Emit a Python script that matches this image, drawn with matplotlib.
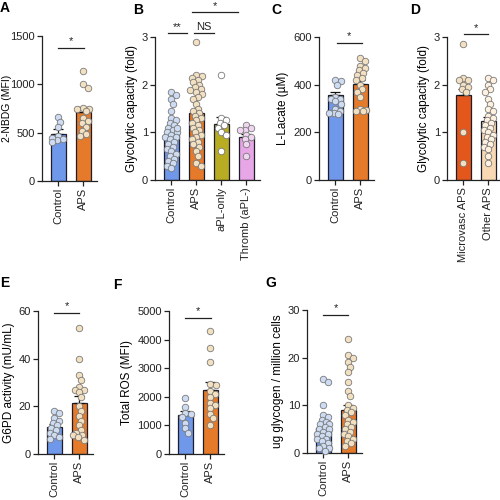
import matplotlib.pyplot as plt
import numpy as np

plt.rcParams['font.family'] = ['Liberation Sans', 'DejaVu Sans']
plt.rcParams['font.size'] = 8

# colours
BLUE, BLUE_DOT = '#6f97ea', '#cddcf3'
ORANGE, ORANGE_DOT = '#e57a2a', '#f3e0c0'
OLIVE, OLIVE_DOT = '#b8ac22', '#ffffff'
PINK, PINK_DOT = '#e7a6e6', '#f0d6f0'
RED_OR, PEACH, PEACH_DOT = '#e4571c', '#f9d9b4', '#fff1df'

# ---- data ----
a_groups = ['Control', 'APS']
a_mean = [490, 710]
a_sem = [45, 55]
a_pts = [[660, 610, 560, 470, 430, 420, 450, 400],
         [1140, 1000, 960, 760, 750, 740, 720, 650, 620, 600, 560, 520, 490, 470]]

b_groups = ['Control', 'APS', 'aPL-only', 'Thromb (aPL-)']
b_mean = [0.97, 1.40, 1.17, 0.90]
b_sem = [0.08, 0.09, 0.16, 0.07]
b_pts = [[1.85, 1.78, 1.7, 1.6, 1.45, 1.3, 1.25, 1.2, 1.15, 1.1, 1.05, 1.0, 1.0, 0.95,
          0.9, 0.9, 0.85, 0.8, 0.75, 0.7, 0.65, 0.6, 0.55, 0.5, 0.45, 0.4, 0.35, 0.3, 0.25, 1.1],
         [2.9, 2.2, 2.18, 2.15, 2.1, 2.05, 2.0, 1.95, 1.9, 1.88, 1.85, 1.8, 1.75, 1.7, 1.6,
          1.5, 1.45, 1.4, 1.35, 1.3, 1.25, 1.2, 1.15, 1.1, 1.05, 1.0, 0.95, 0.9, 0.85, 0.8,
          0.75, 0.7, 0.6, 0.5, 0.35, 0.3],
         [2.2, 1.3, 1.25, 1.2, 1.15, 1.1, 1.0, 0.95, 0.6],
         [1.15, 1.1, 1.05, 1.05, 0.95, 0.9, 0.85, 0.75, 0.5]]

c_groups = ['Control', 'APS']
c_mean = [355, 403]
c_sem = [14, 18]
c_pts = [[420, 415, 400, 350, 340, 340, 330, 320, 300, 290, 280, 280, 275],
         [510, 500, 480, 470, 460, 450, 440, 430, 420, 400, 380, 370, 350, 300, 295, 290, 290]]

d_groups = ['Microvasc APS', 'Other APS']
d_mean = [1.78, 1.23]
d_sem = [0.12, 0.1]
d_pts = [[2.85, 2.15, 2.1, 2.1, 2.0, 1.95, 1.9, 1.85, 1.0, 0.35],
         [2.15, 2.1, 2.0, 1.9, 1.85, 1.7, 1.6, 1.5, 1.45, 1.35, 1.3, 1.25, 1.2, 1.15,
          1.1, 1.05, 1.0, 0.95, 0.9, 0.85, 0.8, 0.75, 0.7, 0.65, 0.5, 0.35]]

e_groups = ['Control', 'APS']
e_mean = [11.5, 21.5]
e_sem = [1.2, 3.0]
e_pts = [[18, 17, 15, 14, 13, 12, 11, 10, 9, 8, 7, 6.5],
         [53, 40, 33, 31, 28, 27, 27, 26, 24, 20, 18, 16, 14, 12, 10, 9, 8, 8, 7, 6]]

f_groups = ['Control', 'APS']
f_mean = [1380, 2240]
f_sem = [140, 270]
f_pts = [[1950, 1650, 1450, 1400, 1300, 1100, 900, 750],
         [4300, 3700, 3200, 2450, 2400, 2200, 2100, 2000, 1800, 1700, 1600, 1400, 1250, 1000]]

g_groups = ['Control', 'APS']
g_mean = [5.2, 9.0]
g_sem = [0.8, 1.1]
g_pts = [[15.5, 15, 10, 8, 7.5, 7, 6.5, 6, 6, 5.5, 5, 5, 4.5, 4, 4, 3.5, 3, 3, 2.5, 2,
          1.5, 1, 1, 0.5],
         [24, 20.5, 20, 19, 18, 17, 15, 13, 12, 10, 9.5, 9, 8.5, 8, 7, 6.5, 6, 5.5, 5,
          4.5, 4, 3.5, 3, 2.5, 2, 1.5]]

W = 500.0
STEP = 25.0  # px between bars


def swarm(vals, px_per_unit, d=6.2, half=6.0):
    # compact beeswarm kept inside the bar
    placed = []
    offs = []
    cand = [0.0]
    for k in range(1, 5):
        cand += [k * half / 4, -k * half / 4]
    for v in vals:
        y = v * px_per_unit
        best, best_d = 0.0, -1
        for c in cand:
            md = min([np.hypot(c - px, y - py) for px, py in placed] or [99])
            if md >= d * 0.8:
                best = c
                break
            if md > best_d:
                best, best_d = c, md
        placed.append((best, y))
        offs.append(best / STEP)
    return offs


def panel(left, top, bottom, groups, means, sems, pts, bar_cols, dot_cols,
          ymax, yticks, ylabel, sig):
    n = len(groups)
    w = (0.65 + n - 1 + 0.55) * STEP
    ax = fig.add_axes([left / W, 1 - bottom / W, w / W, (bottom - top) / W])
    x = np.arange(n)
    ax.bar(x, means, width=0.62, color=bar_cols, edgecolor='#1e1e2a', linewidth=0.9, zorder=2)
    for i in range(n):
        ax.errorbar(x[i], means[i], yerr=[[0], [sems[i]]], color='#111111',
                    elinewidth=0.9, capsize=3.5, capthick=0.9, zorder=4)
        offs = swarm(pts[i], (bottom - top) / ymax)
        ax.scatter(x[i] + np.array(offs), pts[i], s=22, facecolor=dot_cols[i],
                   edgecolor='#7a7a7a', linewidth=0.6, zorder=5, clip_on=False)
    ax.set_xlim(-0.65, n - 1 + 0.55)
    ax.set_ylim(0, ymax)
    ax.set_yticks(yticks)
    ax.set_xticks(x)
    ax.set_xticklabels(groups, rotation=90)
    ax.set_ylabel(ylabel, labelpad=3, fontsize=8.5)
    for s in ['top', 'right']:
        ax.spines[s].set_visible(False)
    for s in ['left', 'bottom']:
        ax.spines[s].set_color('#222222')
        ax.spines[s].set_linewidth(0.9)
    ax.tick_params(direction='out', length=3.5, width=0.9, labelsize=8,
                   colors='#222222', pad=1.5)
    for x0, x1, y, txt, dy in sig:
        ax.plot([x0, x1], [y, y], color='#222222', lw=0.9, clip_on=False)
        ax.text((x0 + x1) / 2, y + dy * ymax, txt, ha='center', va='bottom',
                fontsize=8, color='#222222', clip_on=False)
    return ax


fig = plt.figure(figsize=(5, 5), dpi=100)

ax_a = panel(42, 36, 181, a_groups, a_mean, a_sem, a_pts, [BLUE, ORANGE],
             [BLUE_DOT, ORANGE_DOT], 1500, [0, 500, 1000, 1500], '2-NBDG (MFI)',
             [(-0.02, 1.02, 1376, '*', 0.01)])
# keep the leftmost label inside the picture
ax_a.yaxis.label.set_fontsize(7.5)
ax_a.yaxis.set_label_coords((12 - 42) / 55.0, 0.5)

panel(155, 37, 180, b_groups, b_mean, b_sem, b_pts, [BLUE, ORANGE, OLIVE, PINK],
      [BLUE_DOT, ORANGE_DOT, OLIVE_DOT, PINK_DOT], 3, [0, 1, 2, 3],
      'Glycolytic capacity (fold)',
      [(-0.14, 0.62, 3.08, '**', 0.01), (0.9, 1.72, 3.08, 'NS', 0.01),
       (0.82, 2.65, 3.52, '*', 0.01)])

panel(319, 37, 180, c_groups, c_mean, c_sem, c_pts, [BLUE, ORANGE], [BLUE_DOT, ORANGE_DOT],
      600, [0, 200, 400, 600], 'L-Lacate (\u00b5M)', [(0.05, 1.05, 575, '*', 0.01)])

panel(447, 37, 180, d_groups, d_mean, d_sem, d_pts, [RED_OR, PEACH], [ORANGE_DOT, PEACH_DOT],
      3, [0, 1, 2, 3], 'Glycolytic capacity (fold)', [(0.02, 1.0, 3.06, '*', 0.01)])

panel(38, 311, 454, e_groups, e_mean, e_sem, e_pts, [BLUE, ORANGE], [BLUE_DOT, ORANGE_DOT],
      60, [0, 20, 40, 60], 'G6PD activity (mU/mL)', [(0.0, 1.0, 59.2, '*', 0.01)])

panel(169, 311, 454, f_groups, f_mean, f_sem, f_pts, [BLUE, ORANGE], [BLUE_DOT, ORANGE_DOT],
      5000, [0, 1000, 2000, 3000, 4000, 5000], 'Total ROS (MFI)',
      [(0.0, 1.02, 4755, '*', 0.01)])

panel(307, 310, 453, g_groups, g_mean, g_sem, g_pts, [BLUE, ORANGE], [BLUE_DOT, ORANGE_DOT],
      30, [0, 10, 20, 30], 'ug glycogen / million cells', [(0.0, 1.0, 29, '*', 0.01)])

for letter, px, py in [('A', 0, 1), ('B', 133, 3), ('C', 271, 3), ('D', 410, 3),
                       ('E', 0, 276), ('F', 113, 278), ('G', 265, 276)]:
    fig.text(px / W, 1 - py / W, letter, fontsize=10, fontweight='bold', ha='left', va='top')

fig.savefig('out.png', dpi=100)
